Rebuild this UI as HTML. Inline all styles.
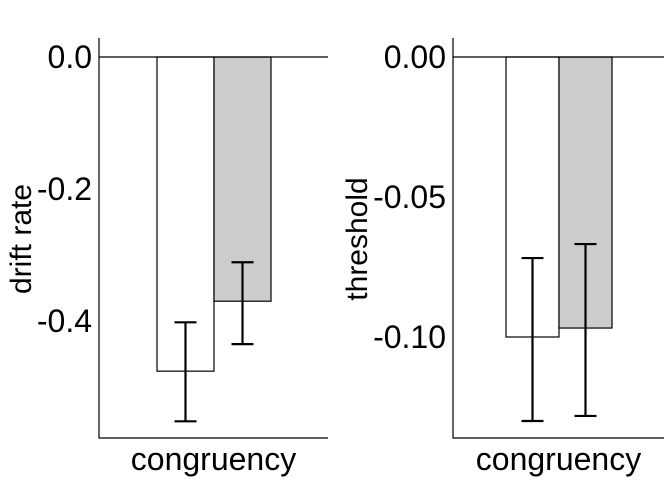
<!DOCTYPE html>
<html><head><meta charset="utf-8"><style>body{margin:0;background:#fff}svg{display:block;font-family:"Liberation Sans",Arial,sans-serif}</style></head>
<body>
<svg id="chart" width="672" height="480"></svg>
<script>
const panelNames = ["drift rate", "threshold"];
const driftValues = [-0.476, -0.370];
const driftLow = [-0.552, -0.435];
const driftHigh = [-0.402, -0.311];
const driftTicks = [0, -0.2, -0.4];
const driftTickLabels = ["0.0", "-0.2", "-0.4"];
const threshValues = [-0.100, -0.0968];
const threshLow = [-0.130, -0.1282];
const threshHigh = [-0.0718, -0.0668];
const threshTicks = [0, -0.05, -0.10];
const threshTickLabels = ["0.00", "-0.05", "-0.10"];
const fills = ["#ffffff", "#cccccc"];

const svg = document.getElementById('chart');
const NS = 'http://www.w3.org/2000/svg';
function mk(tag, attrs, parent) {
  const e = document.createElementNS(NS, tag);
  for (const k in attrs) e.setAttribute(k, attrs[k]);
  parent.appendChild(e); return e;
}
function panel(cfg) {
  const g = mk('g', {}, svg);
  
  
  const y = v => 57 - v * cfg.scale;
  const bw = cfg.barW;
  cfg.values.forEach((v, i) => {
    const x0 = cfg.barX + i * bw;
    const r = mk('rect', {x: x0, y: y(0), width: bw, height: y(v) - y(0), fill: fills[i], stroke: '#000', 'stroke-width': 1.2}, g);
    
    
    const cx = x0 + bw / 2;
    const eb = mk('g', {stroke: '#000', 'stroke-width': 2.2}, g);
    
    
    mk('line', {x1: cx, x2: cx, y1: y(cfg.high[i]), y2: y(cfg.low[i])}, eb);
    mk('line', {x1: cx - 11, x2: cx + 11, y1: y(cfg.high[i]), y2: y(cfg.high[i])}, eb);
    mk('line', {x1: cx - 11, x2: cx + 11, y1: y(cfg.low[i]), y2: y(cfg.low[i])}, eb);
  });
  mk('line', {x1: cfg.ax, x2: cfg.right, y1: y(0), y2: y(0), stroke: '#000', 'stroke-width': 1.2}, g);
  const ax = mk('path', {d: `M${cfg.ax},38V438H${cfg.right}`, fill: 'none', stroke: '#000', 'stroke-width': 1.2}, g);
  
  
  cfg.ticks.forEach((t, i) => {
    const tx = mk('text', {x: cfg.ax - 7, y: y(t) + 11, 'text-anchor': 'end', 'font-size': 32}, g);
    tx.textContent = cfg.tickLabels[i];
    
    
  });
  const xt = mk('text', {x: (cfg.ax + cfg.right) / 2, y: 470, 'text-anchor': 'middle', 'font-size': 32}, g);
  xt.textContent = 'congruency';
  
  
  const yt = mk('text', {x: 0, y: 0, 'text-anchor': 'middle', 'font-size': 30, transform: `translate(${cfg.titleX},239) rotate(-90)`}, g);
  yt.textContent = cfg.title;
  
  
}
panel({name: 'drift', title: panelNames[0], scale: 660, ax: 99, right: 328, barX: 157, barW: 57, values: driftValues, low: driftLow, high: driftHigh, ticks: driftTicks, tickLabels: driftTickLabels, titleX: 31});
panel({name: 'threshold', title: panelNames[1], scale: 2800, ax: 453, right: 664, barX: 506, barW: 53, values: threshValues, low: threshLow, high: threshHigh, ticks: threshTicks, tickLabels: threshTickLabels, titleX: 367});
</script>
</body></html>
